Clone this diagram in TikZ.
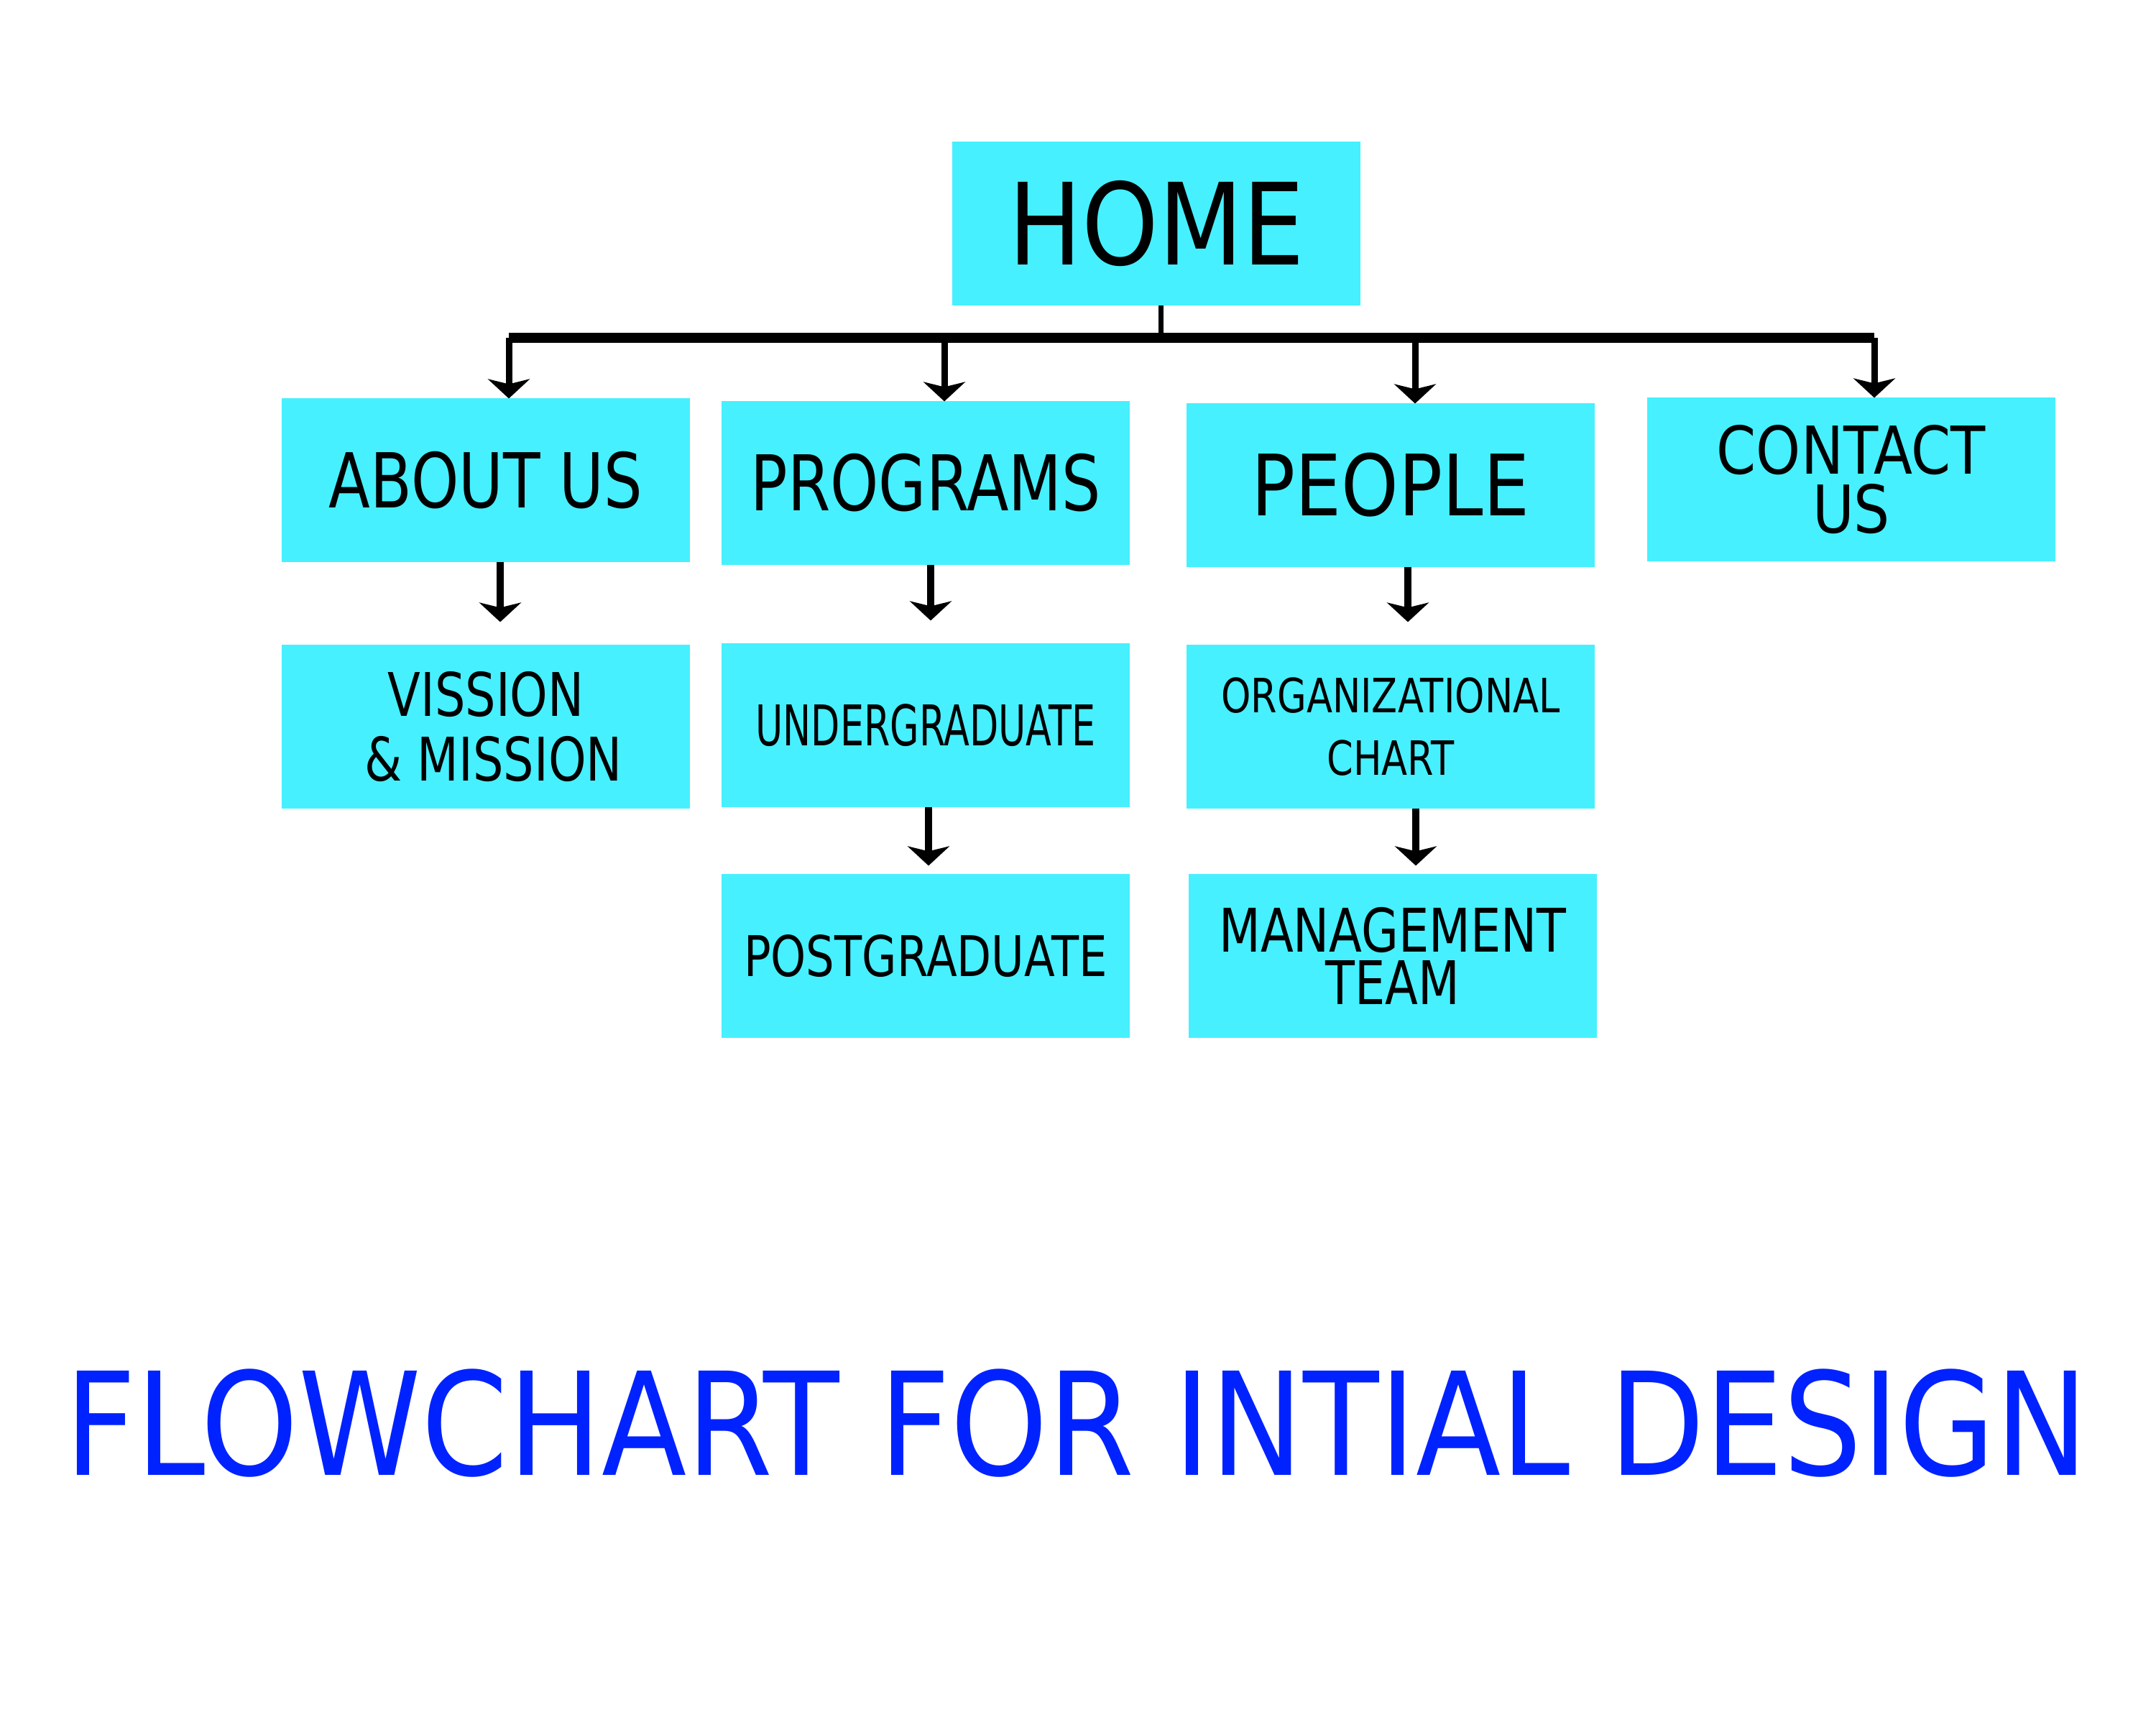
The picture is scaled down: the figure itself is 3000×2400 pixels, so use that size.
\documentclass[tikz,border=0pt]{standalone}
\usepackage{fontspec}
\setmainfont{DejaVu Sans}
\newfontfamily\widefont[FakeStretch=0.86]{DejaVu Sans}
\newfontfamily\itemfont[FakeStretch=0.80]{DejaVu Sans}
\newfontfamily\slimfont[FakeStretch=0.67]{DejaVu Sans}
\newfontfamily\headfont[FakeStretch=0.868]{DejaVu Sans}
\usetikzlibrary{arrows.meta,calc}
\definecolor{navcyan}{RGB}{70, 240, 255}
\definecolor{titleblue}{RGB}{0, 34, 255}
\newcommand{\fsz}[2]{\fontsize{#1}{#2}\selectfont}

\begin{document}
\begin{tikzpicture}[
    x=0.01cm, y=-0.01cm,
    box/.style={fill=navcyan, minimum width=5.68cm, minimum height=2.27cm,
                inner sep=0pt, outer sep=0pt, align=center, text=black},
    busline/.style={line width=0.14cm},
    stemline/.style={line width=0.07cm},
    tip/.style={-{Stealth[length=0.27cm, width=0.58cm, inset=0.07cm]}},
    dropline/.style={tip, line width=0.09cm},
    link/.style={tip, line width=0.10cm},
    heading/.style={font=\headfont\fsz{56.6}{60}, text=titleblue},
]

% page with margins
\fill[white] (0,0) rectangle (3000,2400);
\useasboundingbox (0,0) rectangle (3000,2400);

% ================================================================
% TOP LEVEL
% ================================================================
\node[box, font=\widefont\fsz{44.9}{48}] (home) at (1609,311) {HOME};

% ================================================================
% MAIN MENU ROW
% ================================================================
\node[box, font=\itemfont\fsz{30}{32}]   (about)    at (676,668)  {ABOUT US};
\node[box, font=\itemfont\fsz{30.4}{32}] (programs) at (1288,672) {PROGRAMS};
\node[box, font=\widefont\fsz{33.5}{36}] (people)   at (1935,675) {PEOPLE};
\node[box, font=\widefont\fsz{26.1}{23.2}] (contact) at (2576,667) {CONTACT\\ US};

% ================================================================
% SUB PAGES
% ================================================================
\node[box, font=\itemfont\fsz{23.8}{25.6}] (vision) at (676,1011) {VISSION\\ \ \& MISSION};
\node[box, font=\slimfont\fsz{22.2}{24}]   (ugrad)  at (1288,1009) {UNDERGRADUATE};
\node[box, font=\itemfont\fsz{18.7}{24.5}] (org)    at (1935,1011) {ORGANIZATIONAL\\ CHART};
\node[box, font=\itemfont\fsz{22.2}{24}]   (pgrad)  at (1288,1330) {POSTGRADUATE};
\node[box, font=\itemfont\fsz{23.8}{20.6}] (mgmt)   at (1938,1330) {MANAGEMENT\\ TEAM};

% ================================================================
% BUS FROM HOME TO THE MENU ROW
% ================================================================
\coordinate (hub)  at (1615,470);
\coordinate (tapA) at (708,470);
\coordinate (tapB) at (1314,470);
\coordinate (tapC) at (1969,470);
\coordinate (tapD) at (2608,470);

\draw[stemline] (home.south -| hub) -- (hub);
\draw[busline] (tapA) -- (tapD);
\draw[dropline] (tapA) -- (tapA |- about.north);
\draw[dropline] (tapB) -- (tapB |- programs.north);
\draw[dropline] (tapC) -- (tapC |- people.north);
\draw[dropline] (tapD) -- (tapD |- contact.north);

% ================================================================
% LINKS DOWN TO THE SUB PAGES
% ================================================================
\draw[link, shorten >=0.32cm] ($(about.south)+(20,0)$) -- ($(vision.north)+(20,0)$);
\draw[link, shorten >=0.32cm] ($(programs.south)+(7,0)$) -- ($(ugrad.north)+(7,0)$);
\draw[link, shorten >=0.12cm] ($(ugrad.south)+(4,0)$) -- ($(pgrad.north)+(4,0)$);
\draw[link, shorten >=0.32cm] ($(people.south)+(24,0)$) -- ($(org.north)+(24,0)$);
\draw[link, shorten >=0.12cm] ($(org.south)+(35,0)$) -- ($(mgmt.north)+(32,0)$);

% ================================================================
% TITLE
% ================================================================
\node[heading] (title) at (1498,1980) {FLOWCHART FOR INTIAL DESIGN};

\end{tikzpicture}
\end{document}
